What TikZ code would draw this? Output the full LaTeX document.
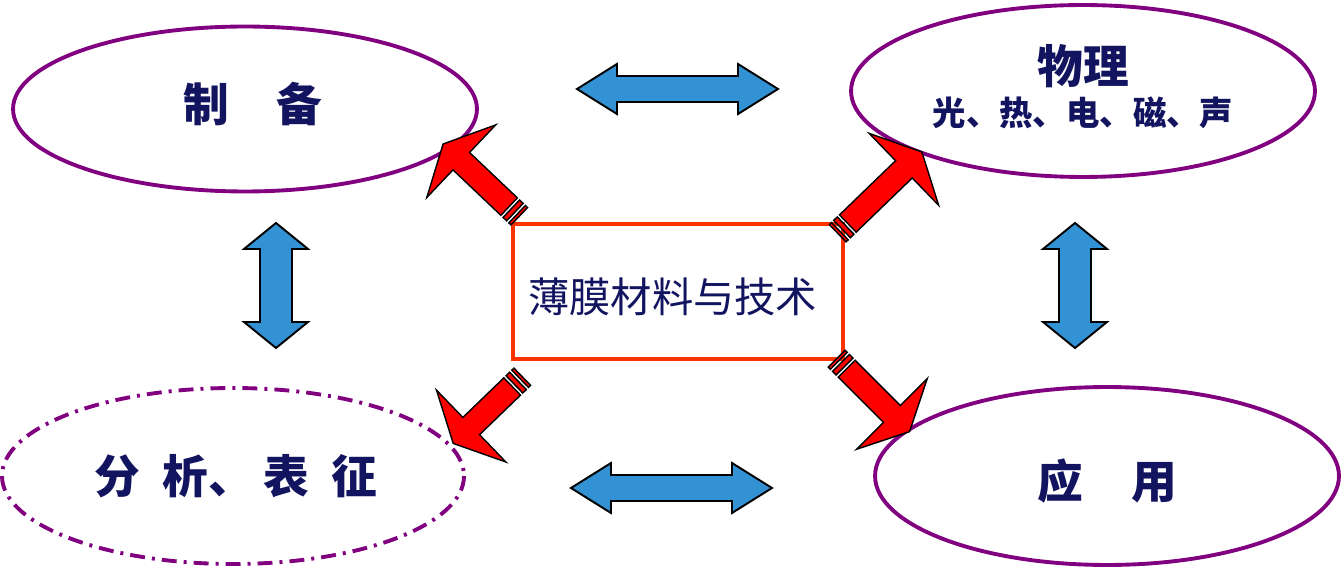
\documentclass[tikz,border=0pt]{standalone}
\usepackage{fontspec}
\newfontfamily\cjk{Noto Sans CJK SC}
\usepackage{xcolor}
\usetikzlibrary{shapes.geometric}
\usetikzlibrary{calc}

\definecolor{navy}{RGB}{18,20,96}
\definecolor{ringpurple}{RGB}{128,0,128}
\definecolor{boxred}{RGB}{255,51,0}
\definecolor{arrowblue}{RGB}{51,146,212}

% move a label up (positive) or down (negative) inside its node
\newcommand\nudge[2]{\raisebox{0pt}[\dimexpr\height-#1\relax][\dimexpr\depth+#1\relax]{#2}}

\tikzset{
  topic/.style={ellipse, draw=ringpurple, line width=2.2pt, inner sep=0pt,
    minimum width=9.28cm, minimum height=3.3cm, text=navy,
    font=\cjk\bfseries\fontsize{26}{30}\selectfont},
  bluearrow/.style={fill=arrowblue, draw=black, line width=1.1pt, line join=miter},
  redarrow/.style={fill=red, draw=black, line width=0.8pt, line join=miter},
  pics/twoway/.style n args={4}{code={
    \draw[bluearrow] (-#1,0) -- ({-#1+#2},-#3) -- ({-#1+#2},-#4) -- ({#1-#2},-#4)
      -- ({#1-#2},-#3) -- (#1,0) -- ({#1-#2},#3) -- ({#1-#2},#4)
      -- ({-#1+#2},#4) -- ({-#1+#2},#3) -- cycle;}},
  pics/striped/.style={code={
    \draw[redarrow] (0,-12) rectangle (3,12);
    \draw[redarrow] (6,-12) rectangle (11,12);
    \draw[redarrow] (14,-12) -- ({#1-25},-12) -- ({#1-25},-50) -- (#1,0)
      -- ({#1-25},50) -- ({#1-25},12) -- (14,12) -- cycle;}}
}

\begin{document}
\begin{tikzpicture}[x=0.02cm,y=-0.02cm]
  \useasboundingbox (0,0) rectangle (1341,567);

  % four topics
  \node[topic] (prep) at (245,109) {\nudge{2.8pt}{\hspace{9pt}制\hspace{1.05em}备}};
  \node[topic, minimum height=3.44cm] (phys) at (1083,91)
    {\nudge{-1.1pt}{\begin{tabular}{@{}c@{}}物理\\[-6pt]
      {\fontsize{19}{22}\selectfont 光、热、电、磁、声}\end{tabular}}};
  \node[topic, draw=none, minimum height=3.52cm] (anal) at (233,476)
    {\hspace{3pt}分\hspace{.5em}析、\hspace{.2em}表\hspace{.5em}征};
  \draw[ringpurple, line width=2.2pt, dash pattern=on 8.5pt off 4pt on 1.7pt off 4pt]
    (anal.center) ellipse [x radius=231, y radius=88];
  \node[topic, minimum height=3.56cm] (appl) at (1107,476) {\nudge{-2.8pt}{应\hspace{1.05em}用}};

  % centre box
  \node[draw=boxred, line width=2pt, minimum width=6.6cm, minimum height=2.7cm,
    text=navy, font=\cjk\fontsize{23.5}{27}\selectfont] (film) at (678,291.5)
    {\nudge{-4.5pt}{\hspace{-6pt}薄膜材料与技术}};

  % blue double arrows
  \pic at (677.5,89) {twoway={100.5}{40}{25}{13}};
  \pic at (671.5,488) {twoway={100.5}{40}{25}{13}};
  \pic[rotate=90] at (276,285.5) {twoway={62.5}{26}{32}{16}};
  \pic[rotate=90] at (1075,285.5) {twoway={62.5}{26}{32}{16}};

  % red arrows out of the box
  \pic[rotate=136.5] at ($(film.north west)+(8,-6)$) {striped=105};
  \pic[rotate=44] at ($(film.north east)+(-7,11)$) {striped=117};
  \pic[rotate=224] at ($(film.south west)+(11,16)$) {striped=96};
  \pic[rotate=-45] at ($(film.south east)+(-8,-2)$) {striped=103};
\end{tikzpicture}
\end{document}
